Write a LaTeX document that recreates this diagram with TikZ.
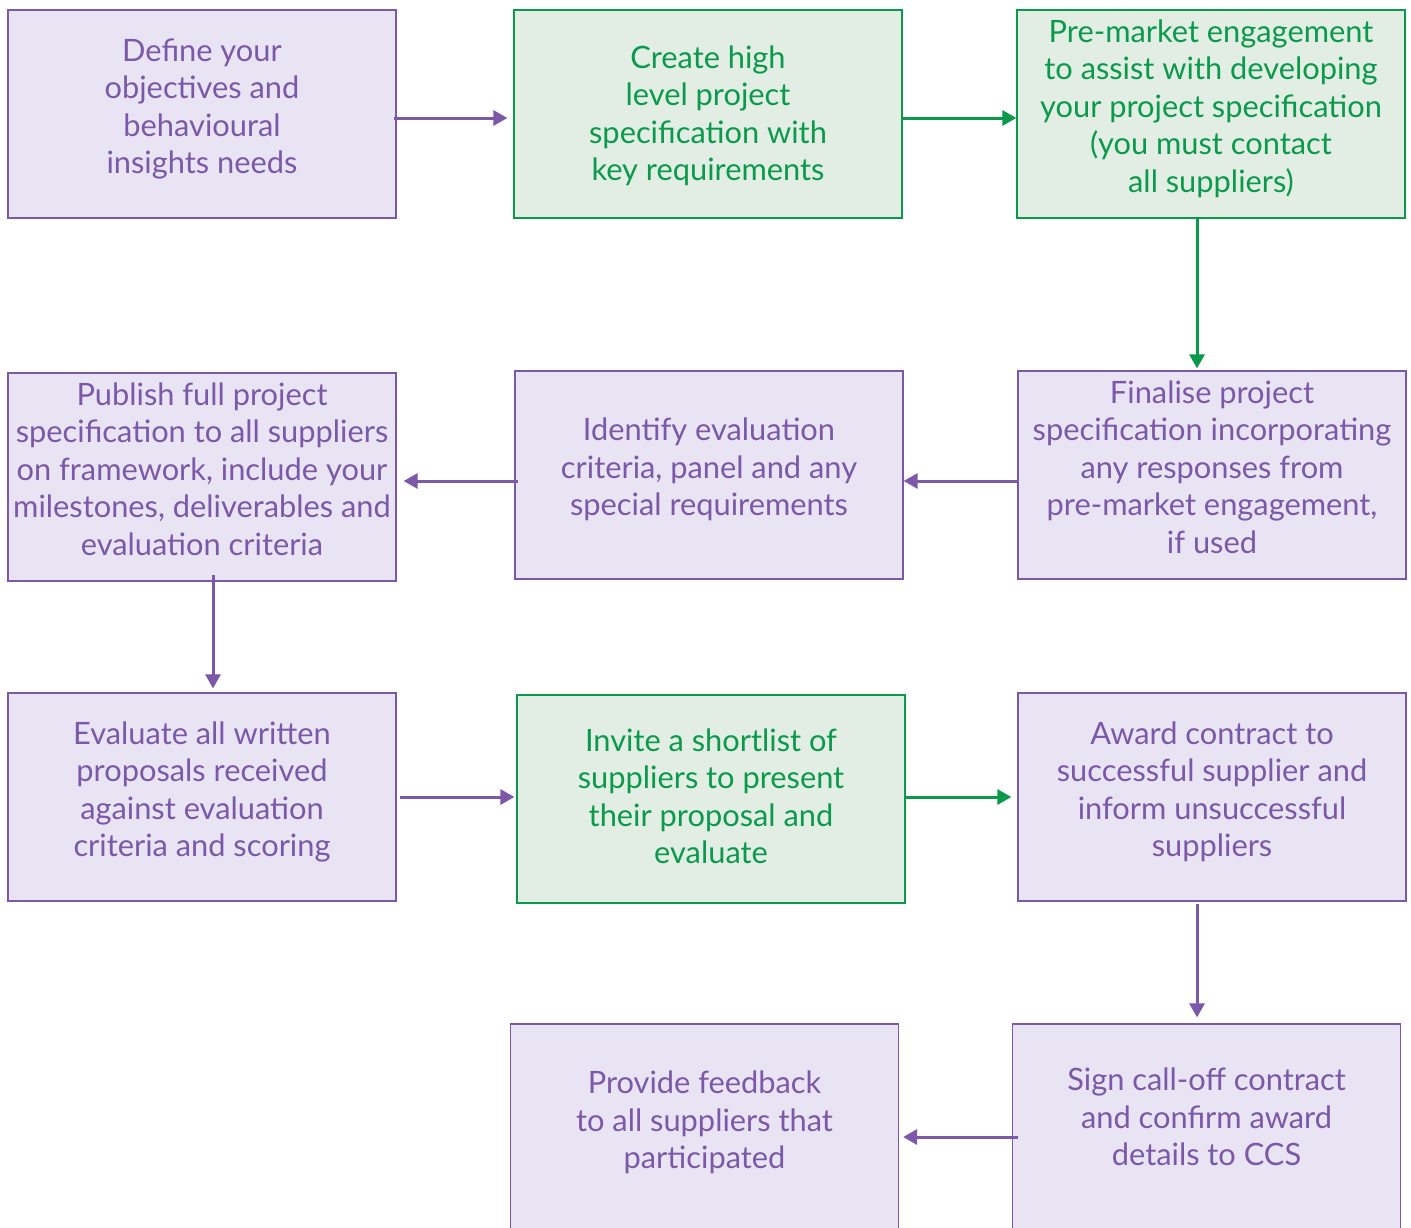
\documentclass[tikz,border=0pt]{standalone}
\usepackage{fontspec}
\setmainfont{Lato}
\usetikzlibrary{arrows.meta,positioning}
\definecolor{ppurple}{HTML}{7B58A8}
\definecolor{pfill}{HTML}{E9E4F3}
\definecolor{ggreen}{HTML}{0B9A4C}
\definecolor{gfill}{HTML}{E2EEE3}

\begin{document}
\begin{tikzpicture}[x=0.5pt,y=-0.5pt,>={Triangle[length=7pt,width=7.5pt]},
 stepbox/.style={rectangle,draw,line width=0.6pt,minimum width=194pt,minimum height=104pt,inner sep=0pt,
  text depth=8pt,align=center,font=\fontsize{15.4}{18.75}\selectfont},
 pbox/.style={stepbox,draw=ppurple,fill=pfill,text=ppurple},
 gbox/.style={stepbox,draw=ggreen,fill=gfill,text=ggreen},
 parr/.style={->,ppurple,line width=1.5pt},
 garr/.style={->,ggreen,line width=1.5pt}]
\useasboundingbox (0,0) rectangle (1411,1227);
\node[pbox] (define) at (202,114) {Define your\\objectives and\\behavioural\\insights needs};
\node[gbox,text depth=1pt] (create) at (708,114) {Create high\\level project\\specification with\\key requirements};
\node[gbox] (premarket) at (1211,114) {Pre-market engagement\\to assist with developing\\your project specification\\(you must contact\\all suppliers)};
\node[pbox] (publish) at (202,477) {Publish full project\\specification to all suppliers\\on framework, include your\\milestones, deliverables and\\evaluation criteria};
\node[pbox] (identify) at (709,475) {Identify evaluation\\criteria, panel and any\\special requirements};
\node[pbox] (finalise) at (1212,475) {Finalise project\\specification incorporating\\any responses from\\pre-market engagement,\\if used};
\node[pbox] (evaluate) at (202,797) {Evaluate all written\\proposals received\\against evaluation\\criteria and scoring};
\node[gbox,text depth=3pt] (invite) at (711,799) {Invite a shortlist of\\suppliers to present\\their proposal and\\evaluate};
\node[pbox] (award) at (1212,797) {Award contract to\\successful supplier and\\inform unsuccessful\\suppliers};
\node[pbox] (feedback) at (704.5,1128) {Provide feedback\\to all suppliers that\\participated};
\node[pbox,text depth=11pt] (sign) at (1206.5,1128) {Sign call-off contract\\and confirm award\\details to CCS};
% connectors
\draw[parr,shorten <=-1.5pt,shorten >=3pt] ([yshift=-2pt]define.east) -- ([yshift=-2pt]define.east -| create.west);
\draw[garr] ([yshift=-2pt]create.east) -- ([yshift=-2pt]create.east -| premarket.west);
\draw[garr,shorten >=1pt] ([xshift=-7pt]premarket.south) -- ([xshift=-7pt]premarket.south |- finalise.north);
\draw[parr] ([yshift=-3pt]finalise.west) -- ([yshift=-3pt]finalise.west -| identify.east);
\draw[parr,shorten <=-2pt,shorten >=3.5pt] ([yshift=-3pt]identify.west) -- ([yshift=-3pt]identify.west -| publish.east);
\draw[parr,shorten <=-3.5pt,shorten >=2pt] ([xshift=5.5pt]publish.south) -- ([xshift=5.5pt]publish.south |- evaluate.north);
\draw[parr,shorten <=1.5pt,shorten >=1pt] (evaluate.east) -- (evaluate.east -| invite.west);
\draw[garr,shorten >=3pt] ([yshift=1pt]invite.east) -- ([yshift=1pt]invite.east -| award.west);
\draw[parr,shorten <=1pt,shorten >=3pt] ([xshift=-7.5pt]award.south) -- ([xshift=-7.5pt]award.south |- sign.north);
\draw[parr,shorten <=-3pt,shorten >=2pt] ([yshift=-4.5pt]sign.west) -- ([yshift=-4.5pt]sign.west -| feedback.east);
\end{tikzpicture}
\end{document}
